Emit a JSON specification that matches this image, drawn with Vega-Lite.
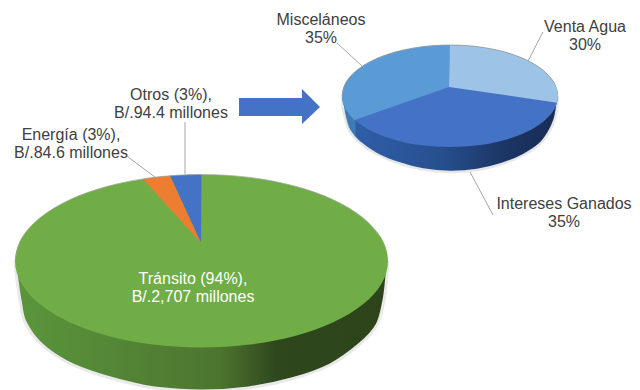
{
  "$schema": "https://vega.github.io/schema/vega-lite/v6.json",
  "width": 640,
  "height": 390,
  "padding": 0,
  "autosize": {"type": "fit", "contains": "padding"},
  "background": "white",
  "config": {"view": {"stroke": null}},
  "datasets": {
    "formas": [
      {"parte":"pared_grande","n":1,"x":388,"y":261},{"parte":"pared_grande","n":2,"x":387,"y":275},{"parte":"pared_grande","n":3,"x":384,"y":300},{"parte":"pared_grande","n":4,"x":377,"y":325},{"parte":"pared_grande","n":5,"x":360,"y":344},{"parte":"pared_grande","n":6,"x":330,"y":365},{"parte":"pared_grande","n":7,"x":292.5,"y":378.8},{"parte":"pared_grande","n":8,"x":248.6,"y":387.9},{"parte":"pared_grande","n":9,"x":201.5,"y":391},{"parte":"pared_grande","n":10,"x":154.4,"y":388},{"parte":"pared_grande","n":11,"x":130,"y":383},{"parte":"pared_grande","n":12,"x":100,"y":375},{"parte":"pared_grande","n":13,"x":67,"y":362},{"parte":"pared_grande","n":14,"x":40,"y":343},{"parte":"pared_grande","n":15,"x":25,"y":322},{"parte":"pared_grande","n":16,"x":20.5,"y":303},{"parte":"pared_grande","n":17,"x":17,"y":280},{"parte":"pared_grande","n":18,"x":15,"y":261},

      {"parte":"Tránsito","n":1,"x":388,"y":261},{"parte":"Tránsito","n":2,"x":381.6,"y":283.4},{"parte":"Tránsito","n":3,"x":363,"y":304.3},{"parte":"Tránsito","n":4,"x":333.4,"y":322.2},{"parte":"Tránsito","n":5,"x":294.8,"y":335.9},{"parte":"Tránsito","n":6,"x":249.8,"y":344.6},{"parte":"Tránsito","n":7,"x":201.5,"y":347.5},{"parte":"Tránsito","n":8,"x":153.2,"y":344.6},{"parte":"Tránsito","n":9,"x":108.2,"y":335.9},{"parte":"Tránsito","n":10,"x":69.6,"y":322.2},{"parte":"Tránsito","n":11,"x":40,"y":304.3},{"parte":"Tránsito","n":12,"x":21.4,"y":283.4},{"parte":"Tránsito","n":13,"x":15,"y":261},{"parte":"Tránsito","n":14,"x":21.4,"y":238.6},{"parte":"Tránsito","n":15,"x":40,"y":217.8},{"parte":"Tránsito","n":16,"x":69.6,"y":199.8},{"parte":"Tránsito","n":17,"x":108.2,"y":186.1},{"parte":"Tránsito","n":18,"x":153.2,"y":177.4},{"parte":"Tránsito","n":19,"x":201.5,"y":174.5},{"parte":"Tránsito","n":20,"x":249.8,"y":177.4},{"parte":"Tránsito","n":21,"x":294.8,"y":186.1},{"parte":"Tránsito","n":22,"x":333.4,"y":199.8},{"parte":"Tránsito","n":23,"x":363,"y":217.8},{"parte":"Tránsito","n":24,"x":381.6,"y":238.6},

      {"parte":"Otros","n":1,"x":201,"y":243},{"parte":"Otros","n":2,"x":201.5,"y":174.5},{"parte":"Otros","n":3,"x":186,"y":174.8},{"parte":"Otros","n":4,"x":170,"y":175.7},
      {"parte":"Energía","n":1,"x":201,"y":243},{"parte":"Energía","n":2,"x":170,"y":175.7},{"parte":"Energía","n":3,"x":156,"y":177.1},{"parte":"Energía","n":4,"x":143,"y":178.9},

      {"parte":"pared_chica","n":1,"x":558,"y":96},{"parte":"pared_chica","n":2,"x":557,"y":108},{"parte":"pared_chica","n":3,"x":554.5,"y":120},{"parte":"pared_chica","n":4,"x":549,"y":132},{"parte":"pared_chica","n":5,"x":540,"y":144},{"parte":"pared_chica","n":6,"x":523.5,"y":155},{"parte":"pared_chica","n":7,"x":502,"y":164},{"parte":"pared_chica","n":8,"x":477,"y":170},{"parte":"pared_chica","n":9,"x":450,"y":172},{"parte":"pared_chica","n":10,"x":423,"y":169.5},{"parte":"pared_chica","n":11,"x":398,"y":163},{"parte":"pared_chica","n":12,"x":376.5,"y":154},{"parte":"pared_chica","n":13,"x":359,"y":142},{"parte":"pared_chica","n":14,"x":349.5,"y":131},{"parte":"pared_chica","n":15,"x":345.5,"y":120},{"parte":"pared_chica","n":16,"x":343,"y":108},{"parte":"pared_chica","n":17,"x":342,"y":96},

      {"parte":"Intereses Ganados","n":1,"x":558,"y":96},{"parte":"Intereses Ganados","n":2,"x":554.3,"y":109.2},{"parte":"Intereses Ganados","n":3,"x":543.5,"y":121.5},{"parte":"Intereses Ganados","n":4,"x":526.4,"y":132.1},{"parte":"Intereses Ganados","n":5,"x":504,"y":140.2},{"parte":"Intereses Ganados","n":6,"x":478,"y":145.3},{"parte":"Intereses Ganados","n":7,"x":450,"y":147},{"parte":"Intereses Ganados","n":8,"x":422,"y":145.3},{"parte":"Intereses Ganados","n":9,"x":396,"y":140.2},{"parte":"Intereses Ganados","n":10,"x":373.6,"y":132.1},{"parte":"Intereses Ganados","n":11,"x":356.5,"y":121.5},{"parte":"Intereses Ganados","n":12,"x":345.7,"y":109.2},{"parte":"Intereses Ganados","n":13,"x":342,"y":96},{"parte":"Intereses Ganados","n":14,"x":345.7,"y":82.8},{"parte":"Intereses Ganados","n":15,"x":356.5,"y":70.5},{"parte":"Intereses Ganados","n":16,"x":373.6,"y":59.9},{"parte":"Intereses Ganados","n":17,"x":396,"y":51.8},{"parte":"Intereses Ganados","n":18,"x":422,"y":46.7},{"parte":"Intereses Ganados","n":19,"x":450,"y":45},{"parte":"Intereses Ganados","n":20,"x":478,"y":46.7},{"parte":"Intereses Ganados","n":21,"x":504,"y":51.8},{"parte":"Intereses Ganados","n":22,"x":526.4,"y":59.9},{"parte":"Intereses Ganados","n":23,"x":543.5,"y":70.5},{"parte":"Intereses Ganados","n":24,"x":554.3,"y":82.8},

      {"parte":"Venta Agua","n":1,"x":449,"y":87},{"parte":"Venta Agua","n":2,"x":449.5,"y":45},{"parte":"Venta Agua","n":3,"x":464.1,"y":45.4},{"parte":"Venta Agua","n":4,"x":478,"y":46.7},{"parte":"Venta Agua","n":5,"x":491.3,"y":48.9},{"parte":"Venta Agua","n":6,"x":504,"y":51.8},{"parte":"Venta Agua","n":7,"x":515.8,"y":55.5},{"parte":"Venta Agua","n":8,"x":526.4,"y":59.9},{"parte":"Venta Agua","n":9,"x":535.7,"y":65},{"parte":"Venta Agua","n":10,"x":543.5,"y":70.5},{"parte":"Venta Agua","n":11,"x":549.8,"y":76.5},{"parte":"Venta Agua","n":12,"x":554.3,"y":82.8},{"parte":"Venta Agua","n":13,"x":557.1,"y":89.3},{"parte":"Venta Agua","n":14,"x":558,"y":96},{"parte":"Venta Agua","n":15,"x":557.1,"y":102.7},

      {"parte":"Misceláneos","n":1,"x":449,"y":87},{"parte":"Misceláneos","n":2,"x":449.5,"y":45},{"parte":"Misceláneos","n":3,"x":435.9,"y":45.4},{"parte":"Misceláneos","n":4,"x":422,"y":46.7},{"parte":"Misceláneos","n":5,"x":408.7,"y":48.9},{"parte":"Misceláneos","n":6,"x":396,"y":51.8},{"parte":"Misceláneos","n":7,"x":384.2,"y":55.5},{"parte":"Misceláneos","n":8,"x":373.6,"y":59.9},{"parte":"Misceláneos","n":9,"x":364.3,"y":65},{"parte":"Misceláneos","n":10,"x":356.5,"y":70.5},{"parte":"Misceláneos","n":11,"x":350.2,"y":76.5},{"parte":"Misceláneos","n":12,"x":345.7,"y":82.8},{"parte":"Misceláneos","n":13,"x":342.9,"y":89.3},{"parte":"Misceláneos","n":14,"x":342,"y":96},{"parte":"Misceláneos","n":15,"x":342.9,"y":102.7},{"parte":"Misceláneos","n":16,"x":345.7,"y":109.2},{"parte":"Misceláneos","n":17,"x":350.2,"y":115.5},{"parte":"Misceláneos","n":18,"x":354.6,"y":120},

      {"parte":"flecha","n":1,"x":239,"y":98},{"parte":"flecha","n":2,"x":302,"y":98},{"parte":"flecha","n":3,"x":302,"y":89},{"parte":"flecha","n":4,"x":320,"y":107},{"parte":"flecha","n":5,"x":302,"y":124},{"parte":"flecha","n":6,"x":302,"y":116},{"parte":"flecha","n":7,"x":239,"y":116}
    ],
    "guias": [
      {"desde_x":185,"desde_y":122,"hasta_x":185,"hasta_y":174},
      {"desde_x":128,"desde_y":157,"hasta_x":155,"hasta_y":177},
      {"desde_x":337,"desde_y":43,"hasta_x":362,"hasta_y":66},
      {"desde_x":543,"desde_y":32,"hasta_x":528,"hasta_y":61},
      {"desde_x":470,"desde_y":172,"hasta_x":493,"hasta_y":215}
    ],
    "etiquetas": [
      {"texto":"Tránsito (94%),\nB/.2,707 millones","x":193,"y":279,"tono":"claro"},
      {"texto":"Otros (3%),\nB/.94.4 millones","x":171,"y":95,"tono":"oscuro"},
      {"texto":"Energía (3%),\nB/.84.6 millones","x":71,"y":135,"tono":"oscuro"},
      {"texto":"Misceláneos\n35%","x":321,"y":20,"tono":"oscuro"},
      {"texto":"Venta Agua\n30%","x":585,"y":27,"tono":"oscuro"},
      {"texto":"Intereses Ganados\n35%","x":564,"y":204,"tono":"oscuro"}
    ]
  },
  "data": {"name": "formas"},
  "encoding": {
    "x": {"field": "x", "type": "quantitative", "axis": null, "scale": {"domain": [0, 640], "nice": false, "zero": false}},
    "y": {"field": "y", "type": "quantitative", "axis": null, "scale": {"domain": [390, 0], "nice": false, "zero": false}},
    "order": {"field": "n", "type": "ordinal"}
  },
  "layer": [
    {
      "transform": [{"filter": "datum.parte === 'pared_grande'"}],
      "mark": {"type": "line", "interpolate": "cardinal", "strokeWidth": 3, "stroke": "#e9e9e9", "clip": true,
        "fill": {"x1": 0, "x2": 1, "y1": 0, "y2": 0, "gradient": "linear", "stops": [
          {"offset": 0, "color": "#5a963b"},
          {"offset": 0.3, "color": "#538435"},
          {"offset": 0.55, "color": "#4c752f"},
          {"offset": 0.7, "color": "#2f471c"},
          {"offset": 1, "color": "#2d441b"}
        ]}}
    },
    {
      "transform": [{"filter": "datum.parte === 'Tránsito'"}],
      "mark": {"type": "line", "interpolate": "cardinal-closed", "strokeWidth": 0, "fill": "#70ad47"}
    },
    {
      "transform": [{"filter": "datum.parte === 'Otros'"}],
      "mark": {"type": "line", "strokeWidth": 0, "fill": "#4472c4"}
    },
    {
      "transform": [{"filter": "datum.parte === 'Energía'"}],
      "mark": {"type": "line", "strokeWidth": 0, "fill": "#ed7d31"}
    },
    {
      "transform": [{"filter": "datum.parte === 'Tránsito' && datum.n >= 13"}],
      "mark": {"type": "line", "interpolate": "cardinal", "strokeWidth": 1, "stroke": "#a6a6a6", "opacity": 0.7}
    },
    {
      "transform": [{"filter": "datum.parte === 'pared_chica'"}],
      "mark": {"type": "line", "interpolate": "cardinal", "strokeWidth": 2.5, "stroke": "#e6e6e6",
        "fill": {"x1": 0, "x2": 1, "y1": 0, "y2": 0, "gradient": "linear", "stops": [
          {"offset": 0, "color": "#3e7ab5"},
          {"offset": 0.06, "color": "#3e7ab5"},
          {"offset": 0.065, "color": "#2f5ea8"},
          {"offset": 0.45, "color": "#27508f"},
          {"offset": 0.75, "color": "#1c3565"},
          {"offset": 1, "color": "#182c55"}
        ]}}
    },
    {
      "transform": [{"filter": "datum.parte === 'Intereses Ganados'"}],
      "mark": {"type": "line", "interpolate": "cardinal-closed", "strokeWidth": 0, "fill": "#4472c4"}
    },
    {
      "transform": [{"filter": "datum.parte === 'Venta Agua'"}],
      "mark": {"type": "line", "strokeWidth": 0, "fill": "#9dc3e6"}
    },
    {
      "transform": [{"filter": "datum.parte === 'Misceláneos'"}],
      "mark": {"type": "line", "strokeWidth": 0, "fill": "#5b9bd5"}
    },
    {
      "transform": [{"filter": "datum.parte === 'Intereses Ganados' && datum.n >= 13"}],
      "mark": {"type": "line", "interpolate": "cardinal", "strokeWidth": 1, "stroke": "#a0a0a0", "opacity": 0.8}
    },
    {
      "transform": [{"filter": "datum.parte === 'flecha'"}],
      "mark": {"type": "line", "strokeWidth": 0, "fill": "#4472c4"}
    },
    {
      "data": {"name": "guias"},
      "mark": {"type": "rule", "color": "#a6a6a6", "strokeWidth": 1},
      "encoding": {
        "x": {"field": "desde_x", "type": "quantitative"},
        "y": {"field": "desde_y", "type": "quantitative"},
        "x2": {"field": "hasta_x"},
        "y2": {"field": "hasta_y"},
        "order": null
      }
    },
    {
      "data": {"name": "etiquetas"},
      "mark": {"type": "text", "font": "Liberation Sans", "fontSize": 16, "lineBreak": "\n", "lineHeight": 18, "align": "center", "baseline": "middle"},
      "encoding": {
        "x": {"field": "x", "type": "quantitative"},
        "y": {"field": "y", "type": "quantitative"},
        "text": {"field": "texto"},
        "color": {"field": "tono", "type": "nominal", "legend": null, "scale": {"domain": ["claro", "oscuro"], "range": ["#ffffff", "#404040"]}},
        "order": null
      }
    }
  ]
}
